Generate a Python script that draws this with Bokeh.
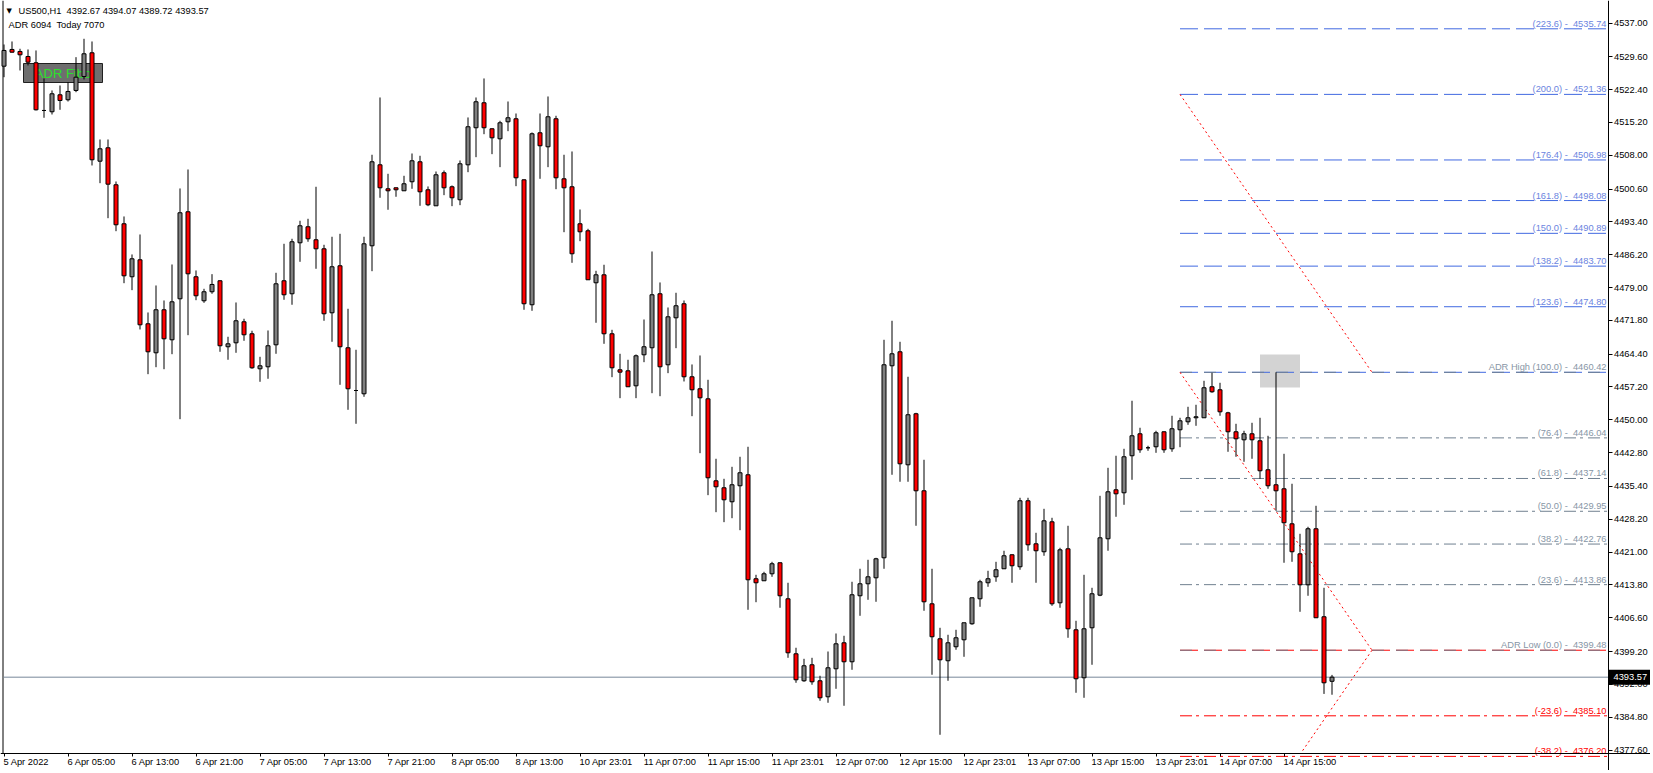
import numpy as np
from bokeh.plotting import figure
from bokeh.models import (FixedTicker, PrintfTickFormatter, Label, Range1d, LinearAxis,
                          BoxAnnotation)
from bokeh.core.properties import value
from bokeh.embed import file_html
from bokeh.resources import INLINE

# ---------------- data (US500, H1) ----------------
opens = [4527.54, 4531.21, 4530.77, 4529.67, 4528.29, 4517.83, 4517.55, 4521.27, 4520.18, 4522.22,
         4525.29, 4530.48, 4506.71, 4509.65, 4501.54, 4492.99, 4481.37, 4485.09, 4471.06, 4464.70,
         4474.13, 4467.55, 4476.54, 4495.62, 4481.37, 4476.10, 4478.08, 4480.49, 4466.02, 4466.89,
         4471.50, 4468.87, 4461.19, 4461.63, 4466.45, 4480.49, 4477.64, 4488.82, 4492.33, 4489.48,
         4487.50, 4473.47, 4483.78, 4465.80, 4456.43, 4455.71, 4488.16, 4505.92, 4500.66, 4500.88,
         4500.22, 4502.20, 4506.58, 4500.44, 4496.93, 4504.17, 4501.10, 4498.25, 4505.92, 4514.04,
         4519.52, 4513.82, 4511.62, 4515.35, 4516.01, 4502.63, 4475.23, 4512.94, 4509.87, 4516.01,
         4502.85, 4501.10, 4492.99, 4491.45, 4480.05, 4481.80, 4468.87, 4460.97, 4460.75, 4457.46,
         4464.26, 4465.80, 4477.64, 4462.07, 4472.37, 4475.45, 4459.44, 4456.81, 4454.61, 4436.63,
         4435.10, 4432.03, 4435.54, 4437.95, 4415.15, 4414.71, 4416.24, 4418.66, 4410.76, 4398.70,
         4392.78, 4396.29, 4392.78, 4389.27, 4395.41, 4401.11, 4396.95, 4411.42, 4414.05, 4415.36,
         4419.75, 4461.85, 4464.92, 4440.14, 4451.33, 4434.44, 4409.66, 4401.99, 4397.17, 4400.24,
         4401.77, 4405.28, 4410.76, 4414.27, 4415.58, 4417.34, 4420.41, 4417.78, 4432.25, 4422.82,
         4421.07, 4427.64, 4409.88, 4421.72, 4403.96, 4393.44, 4404.40, 4411.55, 4423.92, 4434.66,
         4434.00, 4442.12, 4446.94, 4443.87, 4444.09, 4447.38, 4443.65, 4447.82, 4449.57, 4450.45,
         4450.45, 4457.25, 4456.59, 4451.54, 4447.38, 4445.62, 4446.94, 4445.40, 4439.05, 4435.76,
         4434.88, 4427.20, 4420.62, 4413.83, 4426.11, 4406.82, 4392.67]
highs = [4532.30, 4532.96, 4531.36, 4531.21, 4530.99, 4524.85, 4522.22, 4523.31, 4524.04, 4529.52,
         4533.55, 4532.96, 4511.47, 4511.47, 4502.26, 4494.59, 4486.26, 4490.64, 4473.54, 4479.46,
         4476.17, 4484.06, 4500.73, 4504.89, 4482.75, 4478.73, 4481.94, 4480.60, 4468.21, 4475.73,
         4472.16, 4469.53, 4463.82, 4469.59, 4482.24, 4488.60, 4489.70, 4493.65, 4494.08, 4501.10,
         4488.38, 4490.14, 4490.79, 4474.35, 4465.36, 4490.14, 4508.12, 4520.68, 4503.95, 4500.90,
         4503.51, 4508.40, 4507.90, 4501.17, 4504.45, 4504.67, 4501.39, 4506.87, 4516.30, 4520.68,
         4524.85, 4513.90, 4515.57, 4519.80, 4517.17, 4502.70, 4513.01, 4517.17, 4520.90, 4516.67,
         4508.12, 4508.84, 4496.12, 4491.89, 4482.68, 4484.00, 4469.74, 4464.48, 4463.17, 4464.33,
         4472.00, 4486.91, 4480.12, 4474.63, 4477.86, 4476.17, 4462.14, 4464.11, 4458.78, 4441.46,
         4437.07, 4439.70, 4441.90, 4444.09, 4416.02, 4416.68, 4418.87, 4418.70, 4414.27, 4400.02,
         4397.60, 4397.82, 4393.88, 4399.20, 4403.15, 4402.65, 4414.49, 4417.34, 4419.31, 4419.75,
         4467.55, 4471.72, 4467.11, 4459.44, 4451.54, 4441.24, 4417.34, 4404.40, 4402.87, 4403.96,
         4405.50, 4410.98, 4414.93, 4416.90, 4418.87, 4421.29, 4420.50, 4432.91, 4432.91, 4425.23,
         4430.49, 4428.52, 4421.94, 4426.77, 4405.94, 4416.02, 4413.17, 4433.34, 4439.48, 4442.12,
         4443.65, 4454.18, 4448.26, 4444.31, 4447.60, 4447.45, 4450.89, 4450.45, 4452.86, 4453.30,
         4458.56, 4460.31, 4458.12, 4451.76, 4449.13, 4447.60, 4449.35, 4450.45, 4446.50, 4460.42,
         4442.55, 4435.98, 4425.01, 4426.55, 4431.15, 4413.17, 4394.07]
lows = [4525.13, 4530.55, 4526.60, 4527.70, 4517.83, 4516.23, 4516.95, 4517.98, 4519.80, 4521.84,
        4524.63, 4505.77, 4501.89, 4494.21, 4491.36, 4479.96, 4478.43, 4469.81, 4460.01, 4461.54,
        4461.10, 4464.39, 4450.14, 4468.56, 4476.23, 4475.66, 4477.64, 4464.92, 4463.17, 4464.70,
        4467.33, 4461.19, 4458.34, 4459.00, 4464.48, 4476.32, 4475.23, 4484.65, 4489.04, 4483.12,
        4471.72, 4467.11, 4457.68, 4452.20, 4449.13, 4455.05, 4482.59, 4498.69, 4496.06, 4498.91,
        4500.22, 4500.66, 4496.93, 4496.85, 4496.93, 4499.26, 4496.85, 4497.07, 4504.30, 4507.59,
        4512.63, 4508.25, 4505.40, 4513.29, 4501.23, 4474.13, 4473.91, 4502.85, 4505.40, 4500.57,
        4491.14, 4484.43, 4489.17, 4480.71, 4471.28, 4466.67, 4459.35, 4454.75, 4457.25, 4454.75,
        4462.64, 4455.84, 4455.18, 4460.23, 4465.71, 4458.41, 4450.80, 4442.69, 4433.48, 4429.75,
        4427.56, 4428.43, 4425.80, 4408.35, 4410.01, 4414.71, 4415.58, 4408.79, 4397.82, 4392.34,
        4392.56, 4391.91, 4388.40, 4387.96, 4391.02, 4387.30, 4395.19, 4407.03, 4410.54, 4410.10,
        4417.34, 4437.95, 4436.42, 4436.42, 4426.77, 4408.13, 4394.10, 4380.94, 4392.78, 4399.58,
        4398.04, 4405.06, 4409.00, 4413.39, 4414.49, 4417.34, 4414.27, 4417.12, 4421.29, 4414.27,
        4420.19, 4409.22, 4408.79, 4402.21, 4390.15, 4389.05, 4396.29, 4411.33, 4421.29, 4428.74,
        4431.37, 4436.85, 4442.77, 4443.21, 4442.77, 4442.77, 4442.99, 4444.00, 4448.91, 4448.69,
        4450.40, 4455.93, 4450.89, 4442.99, 4441.90, 4440.80, 4441.46, 4437.07, 4434.88, 4430.06,
        4418.66, 4418.87, 4407.91, 4411.42, 4406.60, 4389.90, 4389.72]
closes = [4530.99, 4530.61, 4530.04, 4528.42, 4517.98, 4517.83, 4521.49, 4520.02, 4522.00, 4525.13,
          4530.26, 4507.02, 4509.43, 4501.67, 4492.77, 4481.58, 4485.31, 4470.84, 4464.92, 4474.13,
          4467.77, 4475.88, 4495.40, 4482.02, 4477.20, 4478.08, 4479.68, 4466.24, 4466.67, 4471.72,
          4468.65, 4461.41, 4461.85, 4466.24, 4479.83, 4477.42, 4489.04, 4492.55, 4489.70, 4487.50,
          4473.25, 4483.56, 4466.02, 4456.81, 4456.43, 4488.60, 4506.58, 4500.88, 4500.22, 4500.44,
          4501.76, 4506.80, 4500.00, 4497.15, 4503.73, 4500.88, 4498.69, 4506.14, 4514.26, 4519.74,
          4514.04, 4511.84, 4515.13, 4516.23, 4503.07, 4475.45, 4512.72, 4510.09, 4516.45, 4503.07,
          4500.88, 4486.41, 4491.23, 4480.71, 4481.80, 4468.87, 4461.41, 4460.45, 4457.25, 4464.04,
          4466.02, 4477.42, 4461.63, 4472.59, 4475.01, 4459.44, 4456.59, 4454.83, 4437.29, 4435.32,
          4432.47, 4435.76, 4438.39, 4414.93, 4414.27, 4416.24, 4418.44, 4411.42, 4398.92, 4393.00,
          4396.07, 4392.56, 4389.05, 4395.63, 4400.89, 4396.95, 4411.64, 4414.05, 4415.58, 4419.53,
          4462.07, 4464.48, 4440.36, 4451.11, 4434.44, 4410.10, 4402.43, 4397.38, 4401.11, 4402.21,
          4405.50, 4410.98, 4414.49, 4415.15, 4417.12, 4420.19, 4418.00, 4432.25, 4422.60, 4421.29,
          4427.86, 4409.66, 4421.50, 4404.18, 4393.22, 4404.18, 4411.86, 4424.13, 4434.22, 4433.78,
          4441.90, 4446.50, 4443.43, 4443.87, 4447.16, 4443.43, 4448.04, 4449.79, 4450.45, 4450.67,
          4457.03, 4456.15, 4451.76, 4447.38, 4445.84, 4446.94, 4445.62, 4438.83, 4435.54, 4434.44,
          4427.43, 4421.07, 4413.83, 4426.11, 4406.60, 4392.34, 4393.57]

time_tick_bars = [0, 8, 16, 24, 32, 40, 48, 56, 64, 72, 80, 88, 96, 104, 112, 120, 128, 136, 144, 152, 160]
time_tick_labels = ["5 Apr 2022", "6 Apr 05:00", "6 Apr 13:00", "6 Apr 21:00", "7 Apr 05:00",
                    "7 Apr 13:00", "7 Apr 21:00", "8 Apr 05:00", "8 Apr 13:00", "10 Apr 23:01",
                    "11 Apr 07:00", "11 Apr 15:00", "11 Apr 23:01", "12 Apr 07:00", "12 Apr 15:00",
                    "12 Apr 23:01", "13 Apr 07:00", "13 Apr 15:00", "13 Apr 23:01", "14 Apr 07:00",
                    "14 Apr 15:00"]

price_ticks = [4537.00, 4529.60, 4522.40, 4515.20, 4508.00, 4500.60, 4493.40, 4486.20, 4479.00,
               4471.80, 4464.40, 4457.20, 4450.00, 4442.80, 4435.40, 4428.20, 4421.00, 4413.80,
               4406.60, 4399.20, 4392.00, 4384.80, 4377.60]

fib_levels = [4535.74, 4521.36, 4506.98, 4498.08, 4490.89, 4483.70, 4474.80, 4460.42,
              4446.04, 4437.14, 4429.95, 4422.76, 4413.86, 4399.48, 4385.10, 4376.20]
fib_names = ["(223.6)", "(200.0)", "(176.4)", "(161.8)", "(150.0)", "(138.2)", "(123.6)",
             "ADR High (100.0)", "(76.4)", "(61.8)", "(50.0)", "(38.2)", "(23.6)",
             "ADR Low (0.0)", "(-23.6)", "(-38.2)"]
fib_kind = ["up"] * 7 + ["high"] + ["mid"] * 5 + ["low"] + ["down"] * 2

adr_high = 4460.42
adr_low = 4399.48
adr_start_bar = 147
adr_end_bar = 171
marker_bars = [157, 162]
marker_prices = [4457.10, 4464.35]
last_price = 4393.57
header_line1 = "US500,H1\u00a0 4392.67 4394.07 4389.72 4393.57"
header_line2 = "ADR 6094\u00a0 Today 7070"

# ---------------- geometry ----------------
FW, FH = 1650, 770
BAR_PX = 8.0
PX_PER_PT = 4.5606
x_start = -3.5 / BAR_PX
x_end = x_start + FW / BAR_PX
y_top = 4535.74 + 28.3 / PX_PER_PT
y_bot = y_top - FH / PX_PER_PT

def ux(X):   # canvas pixel -> data x (UI overlay placement)
    return x_start + X / BAR_PX

def uy(Y):   # canvas pixel -> data y (UI overlay placement)
    return y_top - Y / PX_PER_PT

x_axis_at = ux(1607.5)   # vertical price axis position
y_axis_at = uy(752.5)    # horizontal time axis position

FONT = "Liberation Sans"
FS = "9.3px"

p = figure(frame_width=FW, frame_height=FH, x_range=Range1d(x_start, x_end),
           y_range=Range1d(y_bot, y_top), y_axis_location="right",
           toolbar_location=None, output_backend="svg", min_border=0,
           min_border_left=0, min_border_top=0, min_border_right=0, min_border_bottom=0,
           background_fill_color="white", border_fill_color="white", outline_line_color=None)
p.grid.visible = False

# price axis (right side, fixed at the chart edge)
yax = p.yaxis[0]
yax.fixed_location = x_axis_at
yax.ticker = FixedTicker(ticks=price_ticks)
yax.formatter = PrintfTickFormatter(format="%.2f")
yax.major_tick_out = 4
yax.major_tick_in = 0
yax.minor_tick_line_color = None
yax.major_label_standoff = 2
yax.major_label_text_font = FONT
yax.major_label_text_font_size = FS
yax.major_label_text_color = "black"
yax.axis_line_color = "black"
yax.major_tick_line_color = "black"

# time axis: tick marks at the bars
xax = p.xaxis[0]
xax.fixed_location = y_axis_at
xax.ticker = FixedTicker(ticks=time_tick_bars)
xax.major_label_overrides = {t: "" for t in time_tick_bars}
xax.major_label_text_font_size = "0px"
xax.major_tick_out = 3
xax.major_tick_in = 0
xax.minor_tick_line_color = None
xax.axis_line_color = "black"
xax.major_tick_line_color = "black"

# time axis labels: left-aligned at the tick (MT4 style) -> shift centres by half width
CHAR_EM = {" ": 0.278, ":": 0.278, "A": 0.667, "p": 0.556, "r": 0.333}
def text_width_px(s, size=9.3):
    return sum(CHAR_EM.get(ch, 0.556) for ch in s) * size

lab_pos = [b + (text_width_px(t) / 2 - 0.5) / BAR_PX for b, t in zip(time_tick_bars, time_tick_labels)]
xlab = LinearAxis(fixed_location=y_axis_at, ticker=FixedTicker(ticks=lab_pos),
                  major_label_overrides={pos: t for pos, t in zip(lab_pos, time_tick_labels)},
                  axis_line_color=None, major_tick_line_color=None, minor_tick_line_color=None,
                  major_tick_out=0, major_tick_in=0, major_label_standoff=4,
                  major_label_text_font=FONT, major_label_text_font_size=FS,
                  major_label_text_color="black")
p.add_layout(xlab, "below")

# left chart border
p.segment(x0=[ux(2.5)], y0=[y_top], x1=[ux(2.5)], y1=[y_axis_at], line_color="black", line_width=1)

# ADR Fibo button (UI overlay, behind candles)
p.quad(left=[ux(23)], right=[ux(102)], top=[uy(63)], bottom=[uy(82)],
       fill_color="#6e6e6e", line_color="#202020", line_width=1)
p.text(x=[ux(62.5)], y=[uy(73)], text=["ADR Fibo"], text_align="center", text_baseline="middle",
       text_color="#2be02b", text_font=value(FONT), text_font_size=value("13px"))

# ADR high marker box
p.quad(left=[marker_bars[0]], right=[marker_bars[1]], bottom=[marker_prices[0]],
       top=[marker_prices[1]], fill_color="#d3d3d3", line_color=None)

# fib level lines
def hline(level, color, dash, offset=0):
    p.segment(x0=[adr_start_bar], y0=[level], x1=[x_axis_at], y1=[level], line_color=color,
              line_width=1, line_dash=dash, line_dash_offset=offset)

BLUE = "#4169e1"
SLATE = "#708090"
for lvl, kind in zip(fib_levels, fib_kind):
    if kind == "up":
        hline(lvl, BLUE, "18 6")
    elif kind == "high":
        hline(lvl, BLUE, "18 6")
        hline(lvl, SLATE, "12 12")
    elif kind == "mid":
        hline(lvl, SLATE, "12 4 3 5")
    elif kind == "low":
        hline(lvl, "red", "18 6")
        hline(lvl, SLATE, "12 12")
    else:
        hline(lvl, "red", "12 4 3 5")

# zigzag dotted lines (third leg cut at the time axis)
adr = adr_high - adr_low
t_cut = min(1.0, (adr_low - y_axis_at) / adr)
zx0 = [adr_start_bar, adr_start_bar, adr_end_bar]
zy0 = [adr_high + adr, adr_high, adr_low]
zx1 = [adr_end_bar, adr_end_bar, adr_end_bar - (adr_end_bar - adr_start_bar) * t_cut]
zy1 = [adr_high, adr_low, adr_low - adr * t_cut]
p.segment(x0=zx0, y0=zy0, x1=zx1, y1=zy1, line_color="red", line_width=1, line_dash="2 3")

# current price line
p.segment(x0=[ux(3)], y0=[last_price], x1=[x_axis_at], y1=[last_price], line_color="#778899", line_width=1)

# fib labels
text_colors = {"up": "#6b84e0", "high": "#8796a6", "mid": "#8796a6", "low": "#8796a6", "down": "#ff0000"}
p.text(x=[ux(1606)] * len(fib_levels), y=fib_levels,
       text=[f"{n} -\u00a0 {v:.2f}" for n, v in zip(fib_names, fib_levels)],
       text_align="right", text_baseline="bottom",
       text_color=[text_colors[k] for k in fib_kind],
       text_font=value(FONT), text_font_size=value(FS))

# candles
o = np.array(opens); h = np.array(highs); l = np.array(lows); c = np.array(closes)
idx = np.arange(len(o))
cols = np.where(c < o, "#ff0000", "#808080")
p.segment(x0=idx, y0=h, x1=idx, y1=l, line_color="black", line_width=1)
p.vbar(x=idx, width=0.5, top=np.maximum(o, c), bottom=np.minimum(o, c),
       fill_color=cols, line_color="black", line_width=1)

# header texts
p.add_layout(Label(x=ux(6), y=uy(10.5), text="\u25bc", text_font="DejaVu Sans", text_font_size="7px",
                   text_baseline="middle", text_align="left", text_color="black"))
p.add_layout(Label(x=ux(18), y=uy(10.5), text=header_line1, text_font=FONT, text_font_size=FS,
                   text_baseline="middle", text_align="left", text_color="black"))
p.add_layout(Label(x=ux(8), y=uy(24), text=header_line2, text_font=FONT, text_font_size=FS,
                   text_baseline="middle", text_align="left", text_color="black"))

# last price tag on the axis
p.add_layout(BoxAnnotation(left=x_axis_at, right=ux(1653), top=last_price + 7.5 / PX_PER_PT,
                           bottom=last_price - 7.5 / PX_PER_PT, fill_color="black", fill_alpha=1.0,
                           line_color=None))
p.add_layout(Label(x=ux(1613), y=last_price, text=f"{last_price:.2f}", text_font=FONT,
                   text_font_size=FS, text_baseline="middle", text_align="left", text_color="white"))

open("out.html", "w").write(file_html(p, INLINE))
